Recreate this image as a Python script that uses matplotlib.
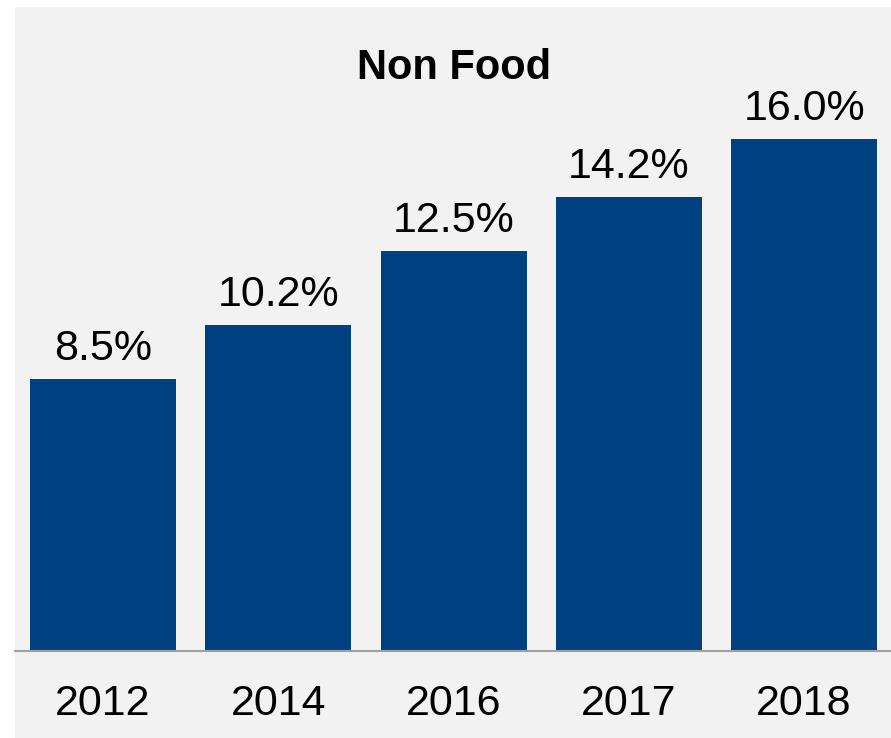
import matplotlib.pyplot as plt
from matplotlib.patches import Rectangle

years = ['2012', '2014', '2016', '2017', '2018']
share = [8.5, 10.2, 12.5, 14.2, 16.0]
labels = ['8.5%', '10.2%', '12.5%', '14.2%', '16.0%']

plt.rcParams['font.family'] = ['Liberation Sans', 'DejaVu Sans']

W, H = 891, 738
fig = plt.figure(figsize=(W / 100, H / 100), dpi=100)
fig.patch.set_facecolor('white')
# grauer Hintergrund
fig.add_artist(Rectangle((15 / W, 0), 1 - 15 / W, 1 - 7 / H,
                         transform=fig.transFigure, facecolor='#f2f2f2',
                         edgecolor='none', zorder=0))

ax = fig.add_axes([15 / W, 87 / H, 1 - 15 / W, (731 - 87) / H])
ax.patch.set_alpha(0)

x = range(len(years))
bars = ax.bar(x, share, width=0.833, color='#004182', zorder=2)

for b, t in zip(bars, labels):
    ax.annotate(t, (b.get_x() + b.get_width() / 2, b.get_height()),
                xytext=(0, 13.5), textcoords='offset points',
                ha='center', va='baseline', fontsize=31, color='black')

ax.set_xlim(-0.502, 4.496)
ax.set_ylim(0, 644 / 32)
ax.set_xticks(list(x))
ax.set_xticklabels(years, fontsize=31)
ax.tick_params(axis='x', length=0, pad=24)
ax.set_yticks([])
for s in ['top', 'left', 'right']:
    ax.spines[s].set_visible(False)
ax.spines['bottom'].set_color('#a0a0a0')
ax.spines['bottom'].set_linewidth(1.5)
ax.spines['bottom'].set_zorder(3)

fig.text(454 / W, 1 - 79 / H, 'Non Food', ha='center', va='baseline',
         fontsize=30, fontweight='bold')

fig.savefig('out.png', dpi=100)
